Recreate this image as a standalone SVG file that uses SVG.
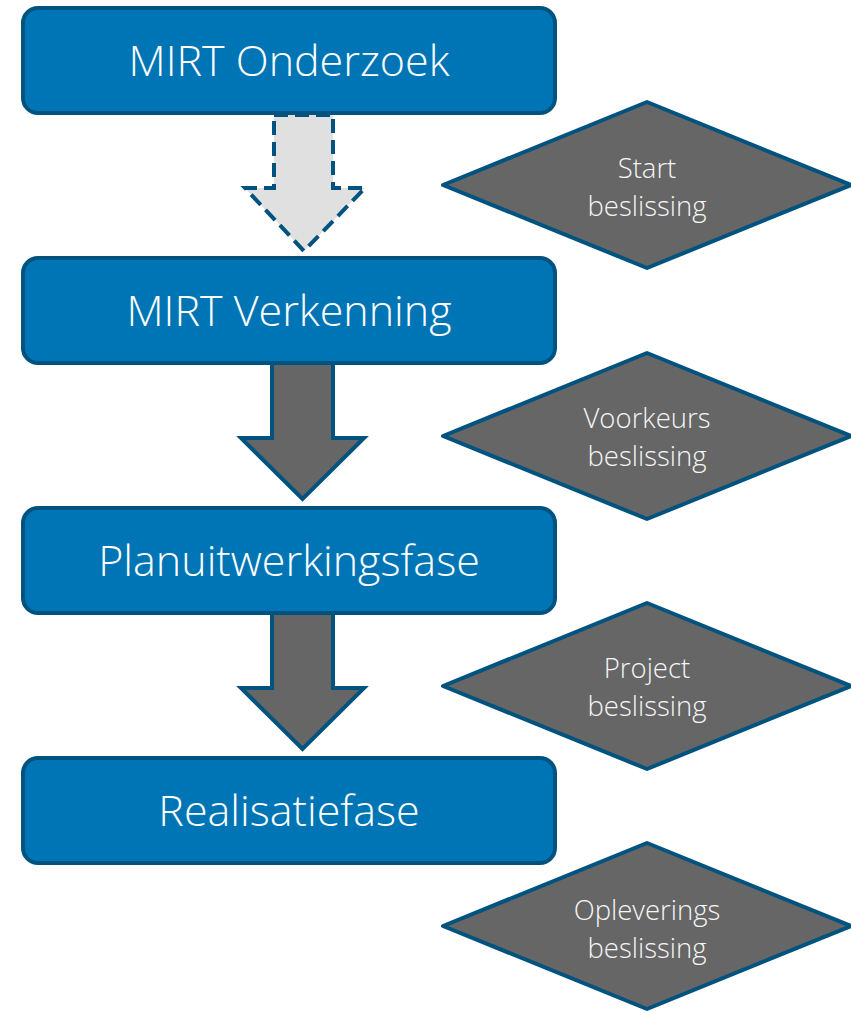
<svg xmlns="http://www.w3.org/2000/svg" width="851" height="1011" viewBox="0 0 851 1011">
<style>
.box{fill:#0075B5;stroke:#00527F;stroke-width:4}
.dia{fill:#666666;stroke:#00527F;stroke-width:4;stroke-linejoin:round}
.arr{fill:#666666;stroke:#00527F;stroke-width:4;stroke-linejoin:miter}
.darr{fill:#E0E0E0;stroke:#00527F;stroke-width:4;stroke-dasharray:14 7}
.bt{font-family:"Open Sans","Liberation Sans",sans-serif;font-weight:300;font-size:43px;fill:#FFFFFF;text-anchor:middle}
.dt{font-family:"Open Sans","Liberation Sans",sans-serif;font-weight:300;font-size:27.5px;fill:#F5F5F5;text-anchor:middle}
</style>
<rect width="851" height="1011" fill="#FFFFFF"/>
<g id="connectors">
<path class="darr" d="M274,115 L333,115 L333,188 L365,188 L304,251 L245,188 L274,188 Z"/>
<path class="arr" d="M272,363 L333,363 L333,438 L364,438 L302.5,499 L241,438 L272,438 Z"/>
<path class="arr" d="M272,613 L333,613 L333,688 L364,688 L302.5,749 L241,688 L272,688 Z"/>
</g>
<g id="n1"><rect class="box" x="23" y="8" width="532" height="105" rx="15"/><text class="bt" x="289" y="76">MIRT Onderzoek</text></g>
<g id="n2"><rect class="box" x="23" y="258" width="532" height="105" rx="15"/><text class="bt" x="289" y="326">MIRT Verkenning</text></g>
<g id="n3"><rect class="box" x="23" y="508" width="532" height="105" rx="15"/><text class="bt" x="289" y="576">Planuitwerkingsfase</text></g>
<g id="n4"><rect class="box" x="23" y="758" width="532" height="105" rx="15"/><text class="bt" x="289" y="826">Realisatiefase</text></g>
<g id="d1"><polygon class="dia" points="443,185 647,102 851,185 647,268"/><text class="dt" x="647" y="178">Start</text><text class="dt" x="647" y="216">beslissing</text></g>
<g id="d2"><polygon class="dia" points="443,436 647,353 851,436 647,519"/><text class="dt" x="647" y="428">Voorkeurs</text><text class="dt" x="647" y="466">beslissing</text></g>
<g id="d3"><polygon class="dia" points="443,686 647,603 851,686 647,769"/><text class="dt" x="647" y="678">Project</text><text class="dt" x="647" y="716">beslissing</text></g>
<g id="d4"><polygon class="dia" points="443,926 647,843 851,926 647,1009"/><text class="dt" x="647" y="920">Opleverings</text><text class="dt" x="647" y="958">beslissing</text></g>
</svg>
